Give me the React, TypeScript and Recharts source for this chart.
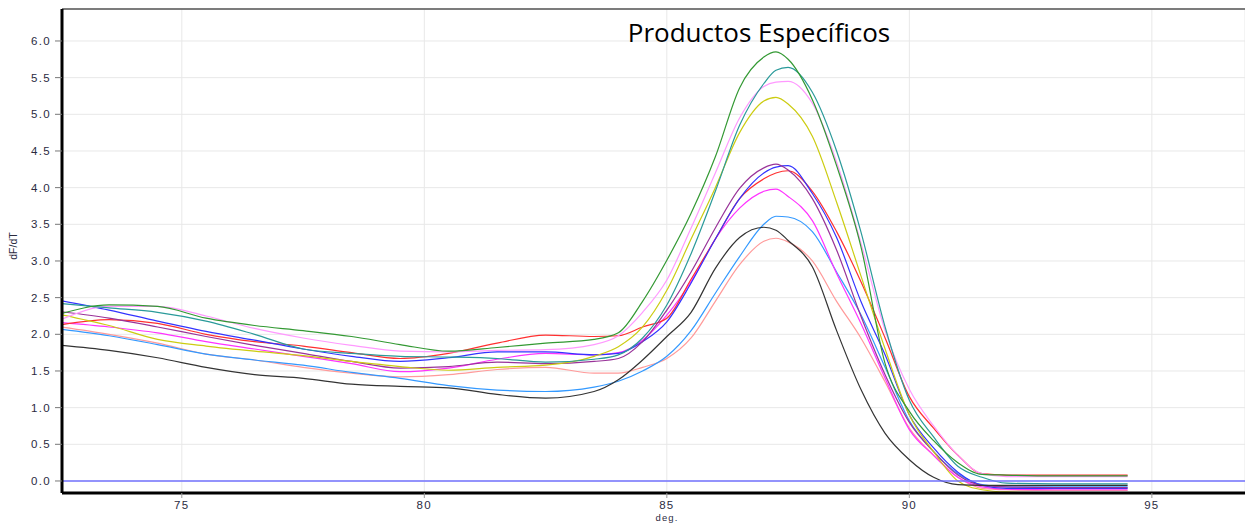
import React from "react";
import { LineChart, Line, XAxis, YAxis, CartesianGrid, ReferenceLine } from "recharts";

// Melt curve: temperature (deg C) vs dF/dT, one line per well
const temps = [
  72.5, 73.5, 74.5, 75.5, 76.5, 77.5, 78.5, 79.5, 80.5, 81.5, 82.5, 83.5, 84, 84.5, 85, 85.5,
  86, 86.5, 87, 87.25, 87.5, 88, 88.5, 89, 89.5, 90, 90.5, 91, 91.5, 92, 93, 94.5,
];

const green = [
  2.28, 2.4, 2.38, 2.22, 2.12, 2.05, 1.97, 1.86, 1.77, 1.82, 1.88, 1.93, 2.02, 2.45, 3.01, 3.65,
  4.42, 5.36, 5.78, 5.85, 5.75, 5.2, 4.3, 3.2, 1.6, 0.95, 0.55, 0.25, 0.09, 0.08, 0.07, 0.07,
];
const teal = [
  2.42, 2.36, 2.3, 2.18, 2.0, 1.8, 1.74, 1.7, 1.69, 1.67, 1.62, 1.66, 1.72, 1.95, 2.4, 3.1,
  3.95, 4.85, 5.42, 5.6, 5.64, 5.3, 4.5, 3.4, 2.1, 1.1, 0.6, 0.2, 0.05, -0.03, -0.04, -0.04,
];
const lightPink = [
  2.2, 2.38, 2.38, 2.25, 2.08, 1.95, 1.85, 1.77, 1.76, 1.78, 1.79, 1.86, 1.98, 2.3, 2.74, 3.45,
  4.2, 4.95, 5.38, 5.44, 5.45, 5.15, 4.35, 3.25, 2.05, 1.25, 0.75, 0.35, 0.1, 0.06, 0.06, 0.06,
];
const yellow = [
  2.27, 2.12, 1.93, 1.84, 1.77, 1.71, 1.63, 1.56, 1.51, 1.55, 1.58, 1.7, 1.83, 2.1, 2.6, 3.3,
  4.0, 4.75, 5.18, 5.23, 5.14, 4.7, 3.8, 2.8, 1.8, 0.9, 0.4, 0.0, -0.12, -0.15, -0.16, -0.16,
];
const purple = [
  2.31, 2.22, 2.1, 1.97, 1.85, 1.74, 1.63, 1.54, 1.56, 1.62, 1.6, 1.63, 1.67, 1.9, 2.33, 2.85,
  3.45, 3.99, 4.27, 4.32, 4.24, 3.85, 3.15, 2.25, 1.45, 0.8, 0.4, 0.08, -0.06, -0.08, -0.09, -0.09,
];
const blue = [
  2.46, 2.33, 2.18, 2.04, 1.92, 1.8, 1.7, 1.63, 1.68, 1.76, 1.76, 1.72, 1.74, 1.9, 2.17, 2.7,
  3.3, 3.85, 4.2, 4.28, 4.3, 3.92, 3.32, 2.45, 1.72, 0.9, 0.45, 0.12, -0.06, -0.1, -0.1, -0.1,
];
const red = [
  2.13, 2.2, 2.15, 2.0, 1.9, 1.84, 1.75, 1.67, 1.74, 1.88, 1.99, 1.97, 1.98, 2.1, 2.22, 2.75,
  3.3, 3.85, 4.12, 4.2, 4.23, 3.95, 3.4, 2.72, 1.95, 1.15, 0.72, 0.35, 0.1, 0.08, 0.08, 0.08,
];
const magenta = [
  2.16, 2.1, 2.02, 1.9, 1.8, 1.7, 1.6, 1.49, 1.54, 1.66, 1.74, 1.72, 1.75, 1.92, 2.26, 2.72,
  3.3, 3.72, 3.95, 3.98, 3.88, 3.55, 2.83, 2.15, 1.4, 0.7, 0.35, 0.05, -0.08, -0.11, -0.12, -0.12,
];
const lightBlue = [
  2.07, 1.98, 1.86, 1.73, 1.65, 1.58, 1.48, 1.4, 1.3, 1.24, 1.22, 1.28, 1.36, 1.5, 1.7, 2.05,
  2.56, 3.06, 3.5, 3.61, 3.6, 3.4, 2.85, 2.27, 1.55, 0.82, 0.4, 0.1, -0.05, -0.08, -0.08, -0.08,
];
const salmon = [
  2.1, 2.0, 1.88, 1.73, 1.65, 1.55, 1.47, 1.42, 1.45, 1.52, 1.55, 1.47, 1.47, 1.55, 1.67, 1.95,
  2.45, 2.95, 3.27, 3.31, 3.26, 3.0, 2.45, 1.95, 1.35, 0.72, 0.35, 0.05, -0.1, -0.12, -0.13, -0.13,
];
const black = [
  1.85, 1.78, 1.68, 1.55, 1.45, 1.4, 1.32, 1.29, 1.27, 1.18, 1.13, 1.22, 1.38, 1.65, 1.97, 2.3,
  2.9, 3.32, 3.46, 3.42, 3.28, 2.92, 2.05, 1.25, 0.65, 0.29, 0.05, -0.05, -0.06, -0.06, -0.06, -0.06,
];

const xTicks = [75, 80, 85, 90, 95];
const yTicks = [0, 0.5, 1, 1.5, 2, 2.5, 3, 3.5, 4, 4.5, 5, 5.5, 6];

const series = [
  { key: "salmon", color: "#ff9a9a", values: salmon },
  { key: "lightBlue", color: "#3399ff", values: lightBlue },
  { key: "magenta", color: "#ff33ff", values: magenta },
  { key: "red", color: "#ff3030", values: red },
  { key: "blue", color: "#3333ff", values: blue },
  { key: "purple", color: "#993399", values: purple },
  { key: "yellow", color: "#cccc11", values: yellow },
  { key: "lightPink", color: "#ff99ff", values: lightPink },
  { key: "teal", color: "#2a9a9a", values: teal },
  { key: "green", color: "#339933", values: green },
  { key: "black", color: "#333333", values: black },
];

const data = temps.map((t, i) => {
  const row: Record<string, number> = { t };
  series.forEach((s) => {
    row[s.key] = s.values[i];
  });
  return row;
});

const X_MIN = 72.53;
const X_MAX = 96.92;
const Y_MIN = -0.164;
const Y_MAX = 6.436;

const tickStyle = {
  fill: "#2b2b3f",
  fontSize: 11.5,
  fontFamily: "Liberation Sans, Arial, sans-serif",
  letterSpacing: 1.3,
};

export default function App() {
  return (
    <div style={{ position: "absolute", left: 0, top: 0, width: 1245, height: 524, background: "#fff" }}>
      <LineChart
        width={1245}
        height={524}
        data={data}
        margin={{ top: 9, right: 0, left: 0, bottom: 1 }}
      >
        <CartesianGrid stroke="#e8e8e8" strokeWidth={1} />
        <XAxis
          dataKey="t"
          type="number"
          domain={[X_MIN, X_MAX]}
          ticks={xTicks}
          allowDataOverflow
          height={30}
          axisLine={{ stroke: "#000", strokeWidth: 3 }}
          tickLine={{ stroke: "#999" }}
          tickSize={5}
          tickMargin={3}
          tick={tickStyle}
        />
        <YAxis
          type="number"
          domain={[Y_MIN, Y_MAX]}
          ticks={yTicks}
          allowDataOverflow
          width={62}
          tickFormatter={(v: number) => v.toFixed(1)}
          axisLine={{ stroke: "#000", strokeWidth: 3 }}
          tickLine={{ stroke: "#777" }}
          tickSize={7}
          tickMargin={4}
          tick={tickStyle}
        />
        <ReferenceLine y={Y_MAX} stroke="#555" strokeWidth={1.5} />
        {series.map((s) => (
          <Line
            key={s.key}
            dataKey={s.key}
            type="monotone"
            stroke={s.color}
            strokeWidth={1.2}
            dot={false}
            activeDot={false}
            isAnimationActive={false}
          />
        ))}
        <ReferenceLine y={0} stroke="#7373ff" strokeWidth={1.5} />
      </LineChart>
      <svg
        width={1245}
        height={524}
        style={{ position: "absolute", left: 0, top: 0, pointerEvents: "none" }}
      >
        <text
          x={759}
          y={42}
          textAnchor="middle"
          fontFamily="Open Sans, sans-serif"
          fontSize={26}
          fill="#000"
        >
          Productos Específicos
        </text>
        <text
          x={17}
          y={246}
          textAnchor="middle"
          transform="rotate(-90 17 246)"
          fontFamily="Liberation Sans, Arial, sans-serif"
          fontSize={10.5}
          fill="#2b2b3f"
        >
          dF/dT
        </text>
        <text
          x={667}
          y={521}
          textAnchor="middle"
          fontFamily="Liberation Sans, Arial, sans-serif"
          fontSize={9.5}
          letterSpacing={1.1}
          fill="#2b2b3f"
        >
          deg.
        </text>
      </svg>
    </div>
  );
}
